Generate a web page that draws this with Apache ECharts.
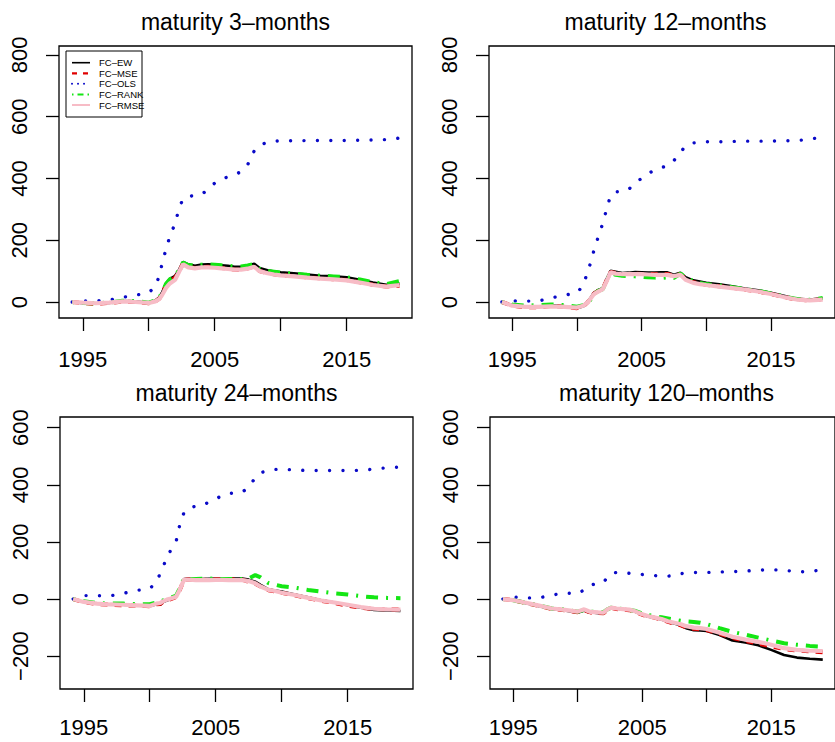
<!DOCTYPE html>
<html>
<head>
<meta charset="utf-8">
<script src="https://cdn.jsdelivr.net/npm/echarts@6/dist/echarts.min.js"></script>
<style>
html,body{margin:0;padding:0;background:#fff;}
#c{width:835px;height:742px;}
</style>
</head>
<body>
<div id="c"></div>
<script>
// ---- data ----
const years = [1994.2,1995,1996,1997,1998,1999,2000,2000.5,2000.8,2001,2001.3,2001.6,2002,2002.3,2002.6,2003,2003.5,2004,2004.5,2005,2005.5,2006,2006.5,2007,2007.5,2008,2008.4,2009,2009.5,2010,2011,2012,2013,2014,2015,2016,2017,2018,2019];
const panelTitles = ['maturity 3\u2013months','maturity 12\u2013months','maturity 24\u2013months','maturity 120\u2013months'];
const seriesNames = ['FC\u2013EW','FC\u2013MSE','FC\u2013OLS','FC\u2013RANK','FC\u2013RMSE'];
const xTicks = [1995,2000,2005,2010,2015];
const xTickLabels = [1995,2005,2015];
const yTicksTop = [0,200,400,600,800];
const yTicksBottom = [-200,0,200,400,600];

// maturity 3-months
const m3_EW   = [0,-4,-5,-3,3,2,-3,5,15,30,60,75,85,105,130,122,117,121,122,121,119,117,114,114,118,124,110,103,99,96,93,89,85,83,80,72,63,56,60];
const m3_MSE  = [0,-3,-6,-3,1,0,-4,2,11,25,54,69,79,99,125,114,110,113,114,113,110,108,105,104,109,116,100,94,90,87,84,80,77,74,71,64,56,50,53];
const m3_OLS  = [0,3,4,6,15,22,30,50,85,122,170,212,255,303,335,342,345,348,365,385,398,405,412,422,445,490,507,518,521,522,522,523,523,523,523,524,525,526,531];
const m3_RANK = [0,-3,-4,-2,4,3,-2,5,14,30,58,74,84,104,128,120,118,121,122,121,119,117,115,115,118,123,108,101,98,95,92,88,85,83,80,73,64,58,68];
const m3_RMSE = [0,-2,-4,-2,2,0,-3,2,10,22,45,60,72,98,122,112,109,112,112,111,109,107,105,105,108,114,100,93,89,86,83,79,76,73,70,63,55,50,55];

// maturity 12-months
const m12_EW   = [0,-10,-15,-16,-11,-14,-20,-14,0,10,30,38,45,75,101,98,94,95,97,96,95,95,96,96,88,95,80,70,66,62,57,51,44,38,30,20,10,8,12];
const m12_MSE  = [0,-12,-17,-17,-13,-15,-20,-14,-2,8,26,35,43,71,97,94,91,91,92,91,91,90,91,91,84,91,74,64,60,56,51,46,40,34,26,16,8,5,9];
const m12_OLS  = [0,4,3,3,13,22,29,55,95,120,165,205,255,302,345,357,357,365,384,401,416,427,435,441,458,485,505,515,518,519,519,520,521,521,521,522,523,527,535];
const m12_RANK = [0,-8,-12,-10,-8,-10,-15,-10,-5,5,25,35,42,70,95,88,85,84,83,82,80,79,78,80,78,92,78,68,62,58,54,48,42,36,28,18,10,7,13];
const m12_RMSE = [0,-12,-16,-16,-14,-16,-18,-12,-2,8,25,33,42,68,96,92,90,90,90,90,89,88,88,88,84,88,72,62,58,55,50,45,40,34,26,16,8,5,8];

// maturity 24-months
const m24_EW   = [0,-10,-16,-19,-20,-22,-25,-18,-20,-10,-5,0,8,35,70,73,72,70,71,72,72,72,72,72,68,61,50,34,30,26,16,6,-4,-12,-22,-30,-38,-40,-42];
const m24_MSE  = [0,-11,-17,-20,-22,-23,-25,-18,-17,-10,-5,0,7,34,68,69,68,67,68,69,69,69,69,68,60,54,44,31,27,22,13,3,-6,-14,-23,-30,-35,-36,-37];
const m24_OLS  = [0,12,12,11,20,30,36,60,90,112,145,172,202,265,303,320,325,328,340,351,362,370,371,374,392,425,442,451,454,455,452,450,450,450,450,451,455,460,462];
const m24_RANK = [0,-8,-14,-16,-16,-18,-18,-12,-10,-5,0,5,12,40,72,70,70,71,72,71,70,70,70,70,72,84,76,56,50,45,40,32,26,20,16,10,6,4,3];
const m24_RMSE = [0,-10,-16,-19,-20,-22,-24,-16,-14,-8,-2,2,8,35,68,68,66,66,66,67,67,66,66,66,63,55,44,32,28,22,14,4,-5,-12,-20,-28,-34,-36,-37];

// maturity 120-months
const m120_EW   = [0,-5,-15,-25,-35,-40,-48,-40,-46,-48,-48,-50,-50,-38,-30,-34,-36,-38,-45,-55,-62,-66,-72,-80,-86,-93,-102,-109,-110,-112,-126,-145,-152,-162,-178,-196,-205,-209,-212];
const m120_MSE  = [0,-4,-14,-24,-35,-39,-46,-39,-44,-47,-47,-49,-50,-38,-31,-35,-37,-39,-45,-55,-61,-66,-72,-80,-86,-92,-99,-104,-106,-109,-122,-136,-147,-156,-166,-175,-180,-183,-186];
const m120_OLS  = [0,7,4,4,14,21,19,32,45,49,52,54,58,76,90,93,93,90,88,86,84,82,80,80,83,89,91,93,93,93,95,96,98,101,103,101,95,96,103];
const m120_RANK = [0,-4,-13,-22,-33,-37,-44,-38,-42,-44,-45,-46,-46,-36,-30,-33,-35,-38,-42,-50,-56,-60,-64,-68,-72,-76,-78,-80,-83,-88,-102,-115,-125,-135,-145,-155,-160,-164,-167];
const m120_RMSE = [0,-4,-13,-23,-33,-38,-44,-36,-42,-45,-46,-47,-48,-36,-30,-33,-35,-37,-44,-53,-60,-65,-70,-78,-83,-88,-95,-100,-102,-105,-118,-132,-142,-150,-160,-172,-178,-181,-182];

const panelData = [
  [m3_EW, m3_MSE, m3_OLS, m3_RANK, m3_RMSE],
  [m12_EW, m12_MSE, m12_OLS, m12_RANK, m12_RMSE],
  [m24_EW, m24_MSE, m24_OLS, m24_RANK, m24_RMSE],
  [m120_EW, m120_MSE, m120_OLS, m120_RANK, m120_RMSE]
];

// ---- layout & styles ----
const FONT = 'Liberation Sans, Arial, Helvetica, sans-serif';
const grids = [
  {left: 59, top: 46, width: 353, height: 272},
  {left: 489, top: 46, width: 353, height: 272},
  {left: 60, top: 417, width: 353, height: 272},
  {left: 490, top: 417, width: 353, height: 272}
];
const yRanges = [[-51.8, 829.1],[-51.8, 829.1],[-315, 637.5],[-315, 637.5]];
const yTickSets = [yTicksTop, yTicksTop, yTicksBottom, yTicksBottom];
const xLabelMargins = [30, 30, 27, 27];

const lineStyles = [
  {color: '#000000', width: 2.6, type: 'solid'},
  {color: '#e00000', width: 4, type: [7, 7]},
  {color: '#0a0ac8', width: 3.4, type: [0.01, 13.4], cap: 'round'},
  {color: '#14e614', width: 4, type: [2, 8, 12, 8]},
  {color: '#f7bcc6', width: 4.2, type: 'solid'}
];
const legendStyles = [
  {color: '#000000', width: 1.6, type: 'solid'},
  {color: '#e00000', width: 2.2, type: [5, 6]},
  {color: '#0a0ac8', width: 2, type: [0.01, 6], cap: 'round'},
  {color: '#14e614', width: 2, type: [1.5, 4, 6, 4]},
  {color: '#f7bcc6', width: 2, type: 'solid'}
];

function fmtY(v){ return v < 0 ? '\u2212' + (-v) : String(v); }
function fmtX(v){ return String(Math.round(v)); }

const option = {
  animation: false,
  backgroundColor: '#ffffff',
  grid: grids.map(g => Object.assign({show: true, borderColor: '#000', borderWidth: 1.3, backgroundColor: 'transparent', containLabel: false}, g)),
  xAxis: grids.map((g, i) => ({
    type: 'value', gridIndex: i, min: 1993.2, max: 2019.95, position: 'bottom',
    axisLine: {show: false, onZero: false}, splitLine: {show: false},
    axisTick: {show: true, inside: false, length: 13, lineStyle: {color: '#000', width: 1.3}, customValues: xTicks},
    axisLabel: {show: true, customValues: xTickLabels, margin: xLabelMargins[i], fontSize: 22, fontFamily: FONT, color: '#000', formatter: fmtX}
  })),
  yAxis: grids.map((g, i) => ({
    type: 'value', gridIndex: i, min: yRanges[i][0], max: yRanges[i][1], position: 'left',
    axisLine: {show: false, onZero: false}, splitLine: {show: false},
    axisTick: {show: true, inside: false, length: 13, lineStyle: {color: '#000', width: 1.3}, customValues: yTickSets[i]},
    axisLabel: {show: true, customValues: yTickSets[i], rotate: 90, margin: 29, fontSize: 22, fontFamily: FONT, color: '#000', formatter: fmtY}
  })),
  series: [],
  graphic: []
};

panelData.forEach((sets, p) => {
  sets.forEach((arr, k) => {
    option.series.push({
      name: seriesNames[k],
      type: 'line',
      xAxisIndex: p, yAxisIndex: p,
      data: years.map((yr, i) => [yr, arr[i]]),
      symbol: 'none', showSymbol: false, silent: true, clip: true,
      lineStyle: Object.assign({}, lineStyles[k]),
      z: 2 + k
    });
  });
  const g = grids[p];
  option.graphic.push({
    type: 'text', x: g.left + g.width / 2, y: g.top - 24, silent: true,
    style: {text: panelTitles[p], fill: '#000', font: '23px ' + FONT, textAlign: 'center', textVerticalAlign: 'middle'}
  });
});

// legend (panel 1)
const lg = {x: 66, y: 51, w: 76, h: 66};
option.graphic.push({type: 'rect', shape: {x: lg.x, y: lg.y, width: lg.w, height: lg.h}, style: {fill: '#fff', stroke: '#000', lineWidth: 1}, z: 50, silent: true});
const legendRows = [62.7, 73.3, 83.8, 94.4, 105];
seriesNames.forEach((nm, k) => {
  const s = legendStyles[k];
  option.graphic.push({type: 'line', z: 51, silent: true, shape: {x1: 72, y1: legendRows[k], x2: 90, y2: legendRows[k]},
    style: {stroke: s.color, lineWidth: s.width, lineDash: s.type === 'solid' ? null : s.type, lineCap: s.cap || 'butt'}});
  option.graphic.push({type: 'text', z: 51, silent: true, x: 99, y: legendRows[k],
    style: {text: nm, fill: '#000', font: '9.5px ' + FONT, textAlign: 'left', textVerticalAlign: 'middle'}});
});

const chart = echarts.init(document.getElementById('c'), null, {renderer: 'svg'});
chart.setOption(option);
</script>
</body>
</html>
